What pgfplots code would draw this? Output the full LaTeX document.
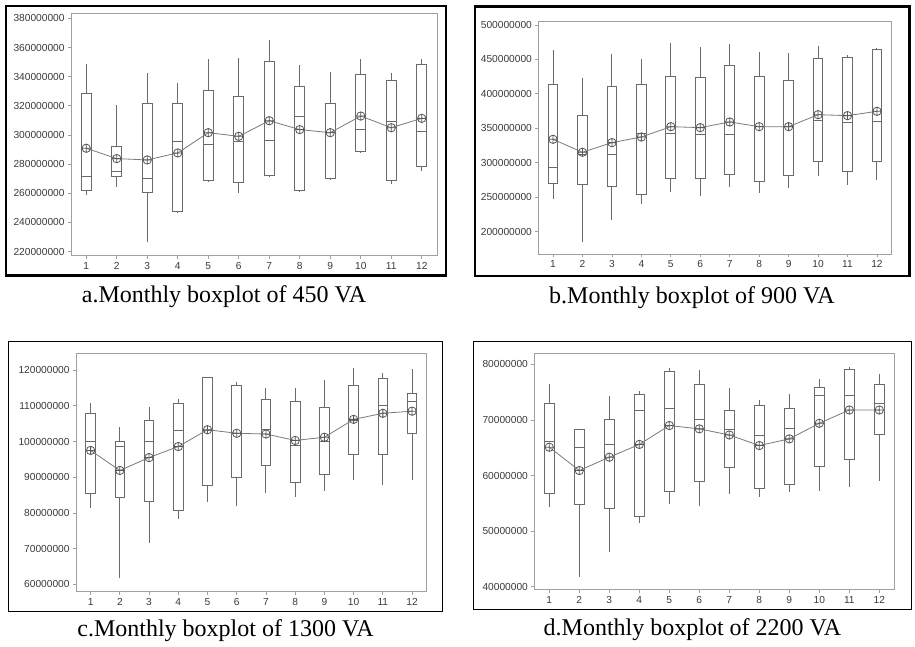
\documentclass[border=0pt]{standalone}
\usepackage{fontspec}
\setmainfont{Liberation Serif}
\newfontfamily\tickfont{Liberation Sans}
\usepackage{pgfplots}
\pgfplotsset{compat=1.18}
\usepgfplotslibrary{statistics}
\definecolor{axgray}{HTML}{A0A0A0}
\definecolor{boxgray}{HTML}{6A6A6A}
\definecolor{meangray}{HTML}{7A7A7A}
\definecolor{labgray}{HTML}{3A3A3A}
\pgfplotsset{
  panel/.style={
    scale only axis,
    xmin=0.5, xmax=12.5,
    xtick={1,...,12},
    tick pos=left,
    tick align=outside,
    major tick length=1.5pt,
    axis line style={draw=axgray, line width=0.5pt},
    every tick/.style={draw=axgray, line width=0.4pt},
    tick label style={font=\tickfont\fontsize{5.1}{6}\selectfont, text=labgray, inner sep=1.5pt},
    /pgf/number format/assume math mode=true,
    scaled ticks=false,
    yticklabel={\pgfmathprintnumber[fixed,precision=0,1000 sep={}]{\tick}000000},
    boxplot/draw direction=y,
    cycle list={{boxgray}},
  },
  boxst/.style={draw=boxgray, line width=0.5pt, solid},
  meanst/.style={meangray, line width=0.4pt, mark=oplus, mark size=2.1pt, mark options={draw=black!65, line width=0.4pt, fill=none}},
}
\newcommand{\mybox}[6]{\addplot+[boxst, boxplot prepared={draw position=#1, lower whisker=#2, lower quartile=#3, median=#4, upper quartile=#5, upper whisker=#6, box extend=0.33, whisker extend=0}] coordinates {};}
\begin{document}
\begin{tikzpicture}
\path[use as bounding box] (0,0) rectangle (457.5pt,323.5pt);
% frames
\draw[line width=1.25pt] (3pt,320.5pt) rectangle (223pt,185.75pt);
\draw[line width=1.25pt] (237.5pt,320.25pt) rectangle (454.75pt,185.5pt);
\draw[line width=0.5pt] (4pt,152.65pt) rectangle (221.25pt,17.65pt);
\draw[line width=0.5pt] (236.65pt,152.65pt) rectangle (455.5pt,18.5pt);
% captions
\node[anchor=base, inner sep=0pt, font=\fontsize{12}{14}\selectfont] at (112pt,172pt) {a.Monthly boxplot of 450 VA};
\node[anchor=base, inner sep=0pt, font=\fontsize{12}{14}\selectfont] at (346pt,171.85pt) {b.Monthly boxplot of 900 VA};
\node[anchor=base, inner sep=0pt, font=\fontsize{12}{14}\selectfont] at (112.75pt,5.15pt) {c.Monthly boxplot of 1300 VA};
\node[anchor=base, inner sep=0pt, font=\fontsize{12}{14}\selectfont] at (346.25pt,5.5pt) {d.Monthly boxplot of 2200 VA};

% Panel a: 450 VA
\begin{axis}[panel, at={(35.5pt,195.5pt)}, anchor=south west, width=183pt, height=121pt,
  ymin=217, ymax=383, ytick={220,240,...,380}]
\mybox{1}{258.9}{261.8}{271.2}{328.3}{348.5}
\mybox{2}{264.6}{271.2}{275.1}{291.8}{320.6}
\mybox{3}{226.9}{260.5}{270.1}{321.5}{342.7}
\mybox{4}{247.0}{247.2}{295.7}{321.5}{335.9}
\mybox{5}{267.5}{268.5}{293.6}{330.6}{351.9}
\mybox{6}{260.0}{267.1}{295.7}{326.1}{353.0}
\mybox{7}{271.0}{272.3}{296.3}{350.7}{365.1}
\mybox{8}{260.7}{261.8}{313.0}{333.1}{347.8}
\mybox{9}{269.1}{270.1}{301.5}{321.5}{343.2}
\mybox{10}{287.9}{289.0}{304.1}{341.4}{351.9}
\mybox{11}{266.2}{268.9}{309.4}{337.5}{342.7}
\mybox{12}{275.3}{278.7}{302.5}{348.2}{351.9}
\addplot[meanst] coordinates {(1,290.9)(2,283.8)(3,282.9)(4,287.7)(5,301.6)(6,299.1)(7,309.8)(8,303.7)(9,301.6)(10,313.0)(11,305.0)(12,311.4)};
\end{axis}

% Panel b: 900 VA
\begin{axis}[panel, at={(269.15pt,196.35pt)}, anchor=south west, width=176.7pt, height=116.3pt,
  ymin=167.1, ymax=504.8, ytick={200,250,...,500}]
\mybox{1}{247.9}{270.2}{293.4}{413.9}{463.7}
\mybox{2}{185.5}{268.7}{312.7}{368.9}{423.1}
\mybox{3}{216.9}{265.3}{312.2}{411.0}{457.9}
\mybox{4}{240.1}{254.2}{342.7}{413.9}{450.6}
\mybox{5}{258.0}{276.9}{342.2}{425.5}{473.4}
\mybox{6}{251.8}{276.9}{341.3}{423.6}{467.6}
\mybox{7}{264.3}{283.2}{341.3}{441.0}{472.4}
\mybox{8}{256.6}{272.1}{352.0}{424.5}{461.3}
\mybox{9}{263.4}{280.8}{352.0}{419.2}{458.9}
\mybox{10}{280.8}{302.1}{361.6}{451.6}{469.5}
\mybox{11}{268.2}{287.6}{358.2}{453.1}{456.0}
\mybox{12}{275.0}{301.1}{359.7}{464.7}{466.1}
\addplot[meanst] coordinates {(1,334.0)(2,315.2)(3,329.2)(4,337.4)(5,352.4)(6,351.0)(7,359.2)(8,352.4)(9,352.4)(10,369.8)(11,368.4)(12,374.7)};
\end{axis}

% Panel c: 1300 VA
\begin{axis}[panel, at={(38pt,27.65pt)}, anchor=south west, width=175.35pt, height=119.2pt,
  ymin=57.95, ymax=124.7, ytick={60,70,...,120}]
\mybox{1}{81.3}{85.5}{100.1}{107.8}{110.9}
\mybox{2}{61.7}{84.4}{98.6}{100.0}{104.1}
\mybox{3}{71.5}{83.2}{100.1}{105.9}{109.8}
\mybox{4}{78.3}{80.7}{103.2}{110.7}{111.8}
\mybox{5}{83.0}{87.6}{103.2}{117.9}{118.1}
\mybox{6}{81.9}{89.8}{102.2}{115.7}{116.8}
\mybox{7}{85.5}{93.3}{103.4}{111.7}{115.1}
\mybox{8}{84.5}{88.6}{98.9}{111.2}{115.1}
\mybox{9}{86.2}{90.7}{100.0}{109.5}{117.2}
\mybox{10}{89.1}{96.4}{106.0}{115.7}{120.7}
\mybox{11}{87.7}{96.4}{110.1}{117.6}{119.3}
\mybox{12}{89.3}{102.3}{111.2}{113.5}{120.4}
\addplot[meanst] coordinates {(1,97.5)(2,91.9)(3,95.5)(4,98.6)(5,103.3)(6,102.3)(7,102.1)(8,100.3)(9,101.2)(10,106.2)(11,107.9)(12,108.5)};
\end{axis}

% Panel d: 2200 VA
\begin{axis}[panel, at={(267.15pt,28.5pt)}, anchor=south west, width=180pt, height=118.35pt,
  ymin=39.4, ymax=82, ytick={40,50,...,80}]
\mybox{1}{54.4}{56.8}{66.1}{73.0}{76.4}
\mybox{2}{41.8}{54.8}{65.1}{68.3}{68.4}
\mybox{3}{46.3}{54.1}{65.6}{70.0}{74.4}
\mybox{4}{51.5}{52.6}{71.7}{74.6}{75.2}
\mybox{5}{54.9}{57.2}{72.1}{78.8}{79.3}
\mybox{6}{54.6}{58.9}{70.0}{76.4}{79.0}
\mybox{7}{56.7}{61.4}{68.3}{71.7}{75.7}
\mybox{8}{56.2}{57.6}{67.2}{72.6}{73.6}
\mybox{9}{57.0}{58.3}{68.4}{72.0}{74.7}
\mybox{10}{57.3}{61.6}{74.4}{75.9}{77.3}
\mybox{11}{58.0}{62.9}{74.4}{79.1}{79.6}
\mybox{12}{59.1}{67.3}{73.0}{76.4}{78.3}
\addplot[meanst] coordinates {(1,65.1)(2,60.9)(3,63.3)(4,65.6)(5,69.0)(6,68.4)(7,67.3)(8,65.4)(9,66.6)(10,69.4)(11,71.8)(12,71.8)};
\end{axis}
\end{tikzpicture}
\end{document}
